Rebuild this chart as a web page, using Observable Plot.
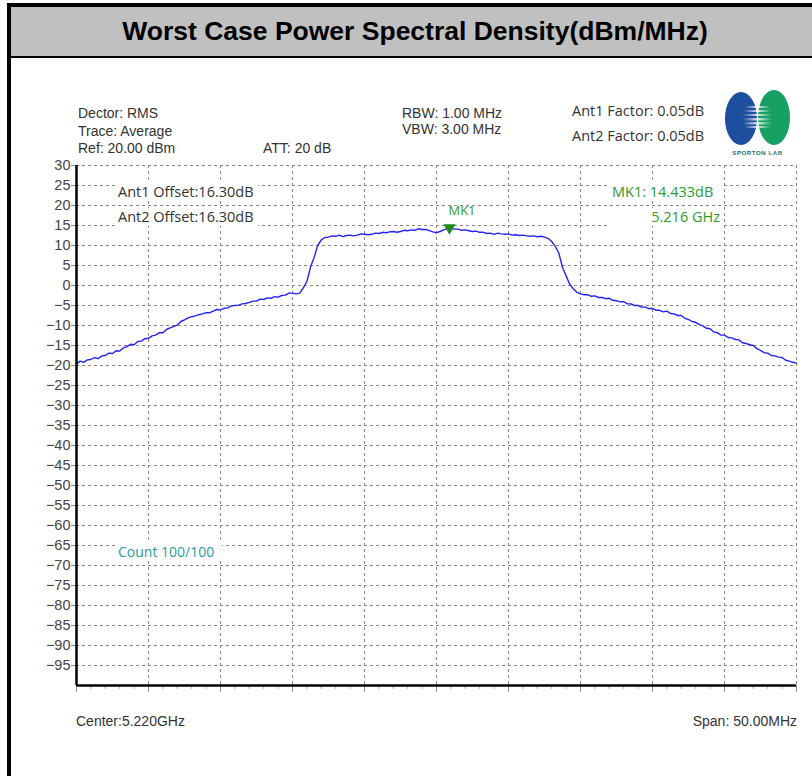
<!DOCTYPE html>
<html><head><meta charset="utf-8">
<script src="https://cdn.jsdelivr.net/npm/d3@7"></script>
<script src="https://cdn.jsdelivr.net/npm/@observablehq/plot@0.6"></script>
<style>
body{margin:0;width:812px;height:776px;overflow:hidden;background:#fff;position:relative;font-family:"Liberation Sans",Arial,sans-serif;}
#chart{position:absolute;left:0;top:0;}
#frame{position:absolute;left:7px;top:3px;width:900px;height:900px;border-left:4px solid #000;border-top:4px solid #000;box-sizing:border-box;}
#header{position:absolute;left:11px;top:7px;width:900px;height:50.5px;background:#c0c0c0;border-bottom:2.5px solid #000;box-sizing:border-box;}
#title{position:absolute;left:11px;width:808px;top:18px;text-align:center;font-weight:bold;font-size:26.5px;line-height:26px;color:#000;}
.t{position:absolute;font-size:14px;line-height:14px;color:#333;white-space:nowrap;}
.o{position:absolute;font-family:"Open Sans",sans-serif;font-size:14.5px;white-space:nowrap;background:#fff;color:#333;}
#logo{position:absolute;left:715px;top:80px;}
</style></head>
<body>
<div id="chart"></div>
<div id="frame"></div>
<div id="header"></div>
<div id="title">Worst Case Power Spectral Density(dBm/MHz)</div>

<div class="t" style="left:78px;top:106px">Dector: RMS</div>
<div class="t" style="left:78px;top:123.5px">Trace: Average</div>
<div class="t" style="left:78px;top:141px">Ref: 20.00 dBm</div>
<div class="t" style="left:263px;top:141px">ATT: 20 dB</div>
<div class="t" style="left:402px;top:106px">RBW: 1.00 MHz</div>
<div class="t" style="left:402px;top:121.5px">VBW: 3.00 MHz</div>
<div class="o" style="left:572px;top:104px;line-height:14.5px;background:none">Ant1 Factor: 0.05dB</div>
<div class="o" style="left:572px;top:129px;line-height:14.5px;background:none">Ant2 Factor: 0.05dB</div>

<div class="o" style="left:116px;top:183px;width:142px;height:17px;line-height:17px;padding-left:2px;box-sizing:border-box">Ant1 Offset:16.30dB</div>
<div class="o" style="left:116px;top:208px;width:142px;height:18px;line-height:18px;padding-left:2px;box-sizing:border-box">Ant2 Offset:16.30dB</div>
<div class="o" style="left:609px;top:183px;width:112px;height:17px;line-height:17px;padding-left:3px;box-sizing:border-box;color:#2f9a2f">MK1: 14.433dB</div>
<div class="o" style="left:609px;top:208px;width:112px;height:18px;line-height:18px;text-align:right;padding-right:1px;box-sizing:border-box;color:#2f9a2f">5.216 GHz</div>
<div class="o" style="left:116px;top:543px;width:106px;height:18px;line-height:18px;font-size:14px;padding-left:2px;box-sizing:border-box;color:#2a9d9d">Count 100/100</div>

<div class="t" style="left:76px;top:714px">Center:5.220GHz</div>
<div class="t" style="right:15px;top:714px">Span: 50.00MHz</div>

<svg id="logo" width="97" height="85" viewBox="0 0 97 85">
  <defs>
    <linearGradient id="wg" x1="0" x2="1" y1="0" y2="0">
      <stop offset="0" stop-color="#fff" stop-opacity="0"/>
      <stop offset="0.5" stop-color="#fff" stop-opacity="0.85"/>
      <stop offset="1" stop-color="#fff" stop-opacity="0"/>
    </linearGradient>
  </defs>
  <ellipse cx="26" cy="38.5" rx="16" ry="26.5" fill="#1d4f9e"/>
  <ellipse cx="59" cy="37.5" rx="16" ry="27.5" fill="#17a064"/>
  <rect x="30" y="26" width="25" height="2" fill="url(#wg)"/>
  <rect x="29" y="30" width="27" height="2" fill="url(#wg)"/>
  <rect x="28" y="34" width="29" height="2" fill="url(#wg)"/>
  <rect x="28" y="38" width="29" height="2.5" fill="url(#wg)"/>
  <rect x="28" y="42" width="29" height="2.5" fill="url(#wg)"/>
  <rect x="30" y="46" width="25" height="2" fill="url(#wg)"/>
  <text x="42.5" y="75" text-anchor="middle" font-family="Liberation Sans, Arial" font-weight="bold" font-size="6.2" fill="#2f6f5f" letter-spacing="0.5">SPORTON LAB</text>
</svg>

<script>
// Trace: offset from start frequency (MHz) and level (dBm)
const startMHz = 5195;
const offsetMHz = [
  0, 0.25, 0.5, 0.75, 1, 1.25, 1.5, 1.75, 2, 2.25, 2.5, 2.75, 3, 3.25, 3.5, 3.75, 4, 4.25, 4.5, 4.75,
  5, 5.25, 5.5, 5.75, 6, 6.25, 6.5, 6.75, 7, 7.25, 7.5, 7.75, 8, 8.25, 8.5, 8.75, 9, 9.25, 9.5, 9.75,
  10, 10.25, 10.5, 10.75, 11, 11.25, 11.5, 11.75, 12, 12.25, 12.5, 12.75, 13, 13.25, 13.5, 13.75, 14, 14.25, 14.5, 14.75,
  15, 15.25, 15.5, 15.75, 16, 16.25, 16.5, 16.75, 17, 17.25, 17.5, 17.75, 18, 18.25, 18.5, 18.75, 19, 19.25, 19.5, 19.75,
  20, 20.25, 20.5, 20.75, 21, 21.25, 21.5, 21.75, 22, 22.25, 22.5, 22.75, 23, 23.25, 23.5, 23.75, 24, 24.25, 24.5, 24.75,
  25, 25.25, 25.5, 25.75, 26, 26.25, 26.5, 26.75, 27, 27.25, 27.5, 27.75, 28, 28.25, 28.5, 28.75, 29, 29.25, 29.5, 29.75,
  30, 30.25, 30.5, 30.75, 31, 31.25, 31.5, 31.75, 32, 32.25, 32.5, 32.75, 33, 33.25, 33.5, 33.75, 34, 34.25, 34.5, 34.75,
  35, 35.25, 35.5, 35.75, 36, 36.25, 36.5, 36.75, 37, 37.25, 37.5, 37.75, 38, 38.25, 38.5, 38.75, 39, 39.25, 39.5, 39.75,
  40, 40.25, 40.5, 40.75, 41, 41.25, 41.5, 41.75, 42, 42.25, 42.5, 42.75, 43, 43.25, 43.5, 43.75, 44, 44.25, 44.5, 44.75,
  45, 45.25, 45.5, 45.75, 46, 46.25, 46.5, 46.75, 47, 47.25, 47.5, 47.75, 48, 48.25, 48.5, 48.75, 49, 49.25, 49.5, 49.75,
  50
];
const levelDbm = [
  -19.6, -18.9, -19.2, -18.6, -18.5, -18.0, -18.3, -17.6, -17.5, -16.9, -17.0, -16.3, -16.4, -15.6, -15.3, -14.7, -14.8, -14.0, -13.9, -13.3,
  -13.2, -12.6, -12.4, -11.8, -11.8, -11.0, -10.6, -10.2, -9.9, -9.0, -8.6, -8.1, -7.8, -7.6, -7.3, -7.1, -6.8, -6.8, -6.4, -6.0,
  -6.1, -5.7, -5.6, -5.1, -5.0, -4.9, -4.6, -4.5, -4.2, -3.9, -3.9, -3.4, -3.5, -3.1, -3.2, -2.8, -2.9, -2.5, -2.4, -1.9,
  -1.9, -2.1, -1.9, -0.6, 1.0, 4.6, 7.0, 10.0, 11.4, 12.0, 12.1, 12.4, 12.3, 12.6, 12.2, 12.5, 12.6, 12.4, 12.6, 12.9,
  12.8, 12.7, 12.8, 13.1, 13.0, 13.3, 13.2, 13.4, 13.5, 13.3, 13.5, 13.8, 13.7, 13.9, 13.8, 14.2, 14.0, 14.0, 13.7, 13.4,
  13.2, 13.5, 13.9, 14.2, 14.3, 14.1, 14.1, 13.8, 13.9, 13.7, 13.5, 13.6, 13.3, 13.3, 13.0, 13.1, 12.8, 13.1, 12.9, 12.8,
  12.9, 12.6, 12.7, 12.5, 12.6, 12.4, 12.3, 12.4, 12.2, 12.3, 12.1, 11.8, 11.0, 9.8, 8.0, 4.5, 2.4, 0.3, -0.8, -1.7,
  -2.1, -2.3, -2.3, -2.7, -2.6, -3.0, -3.0, -3.3, -3.2, -3.7, -3.8, -4.1, -4.0, -4.6, -4.6, -5.0, -5.0, -5.4, -5.4, -5.8,
  -5.7, -6.2, -6.2, -6.6, -6.4, -7.0, -7.1, -7.5, -7.5, -8.2, -8.5, -9.0, -9.2, -9.8, -10.1, -10.7, -10.8, -11.6, -11.8, -12.4,
  -12.4, -13.0, -13.1, -13.5, -13.6, -14.3, -14.5, -14.8, -15.0, -15.8, -16.2, -16.8, -16.9, -17.5, -17.6, -17.9, -18.0, -18.7, -18.9, -19.2,
  -19.4
];
// Axis / grid values
const yTickLabels = [30, 25, 20, 15, 10, 5, 0, -5, -10, -15, -20, -25, -30, -35, -40, -45, -50, -55, -60, -65, -70, -75, -80, -85, -90, -95];
const xGridMHz = [5200, 5205, 5210, 5215, 5220, 5225, 5230, 5235, 5240, 5245];
const xMajorTicks = [5195, 5200, 5205, 5210, 5215, 5220, 5225, 5230, 5235, 5240, 5245];
const xMinorTicks = [5196,5197,5198,5199,5201,5202,5203,5204,5206,5207,5208,5209,5211,5212,5213,5214,5216,5217,5218,5219,5221,5222,5223,5224,5226,5227,5228,5229,5231,5232,5233,5234,5236,5237,5238,5239,5241,5242,5243,5244];
const xDomain = [5195, 5245];
const yDomain = [-100, 30];
// Marker (position as drawn in the picture)
const markerFreq = [5220.9];
const markerLevel = [14.433];
const markerLabel = ["MK1"];

const trace = offsetMHz.map((o, i) => ({f: startMHz + o, v: levelDbm[i]}));
const marker = markerFreq.map((f, i) => ({f, v: markerLevel[i], label: markerLabel[i]}));

const chart = Plot.plot({
  width: 812,
  height: 776,
  marginLeft: 76,
  marginRight: 16,
  marginTop: 165,
  marginBottom: 91,
  style: {background: "transparent", fontFamily: "Liberation Sans, Arial, sans-serif"},
  x: {domain: xDomain},
  y: {domain: yDomain},
  marks: [
    Plot.gridY(yTickLabels, {stroke: "#858585", strokeOpacity: 1, strokeDasharray: "3,3"}),
    Plot.gridX(xGridMHz, {stroke: "#858585", strokeOpacity: 1, strokeDasharray: "3,3"}),
    Plot.axisY(yTickLabels, {tickSize: 5, tickPadding: 1, fontSize: 14.5, fill: "#444", stroke: "#888", label: null}),
    Plot.axisX(xMajorTicks, {tickSize: 7, tickFormat: () => "", stroke: "#999", label: null}),
    Plot.axisX(xMinorTicks, {tickSize: 4, tickFormat: () => "", stroke: "#aaa", label: null}),
    Plot.line(trace, {x: "f", y: "v", stroke: "#2323f5", strokeWidth: 1.4}),
    Plot.ruleX([xDomain[0]], {stroke: "#000", strokeWidth: 2.5}),
    Plot.ruleY([yDomain[0]], {stroke: "#000", strokeWidth: 2.5}),
    Plot.dot(marker, {x: "f", y: "v", symbol: "triangle", rotate: 180, r: 4.5, fill: "#1f8a1f", stroke: "none"}),
    Plot.text(marker, {x: "f", y: "v", text: "label", dy: -17, dx: -1, textAnchor: "start", fill: "#2f9a2f", fontSize: 13, fontFamily: "Open Sans, sans-serif"})
  ]
});
document.getElementById("chart").appendChild(chart);
</script>
</body></html>
